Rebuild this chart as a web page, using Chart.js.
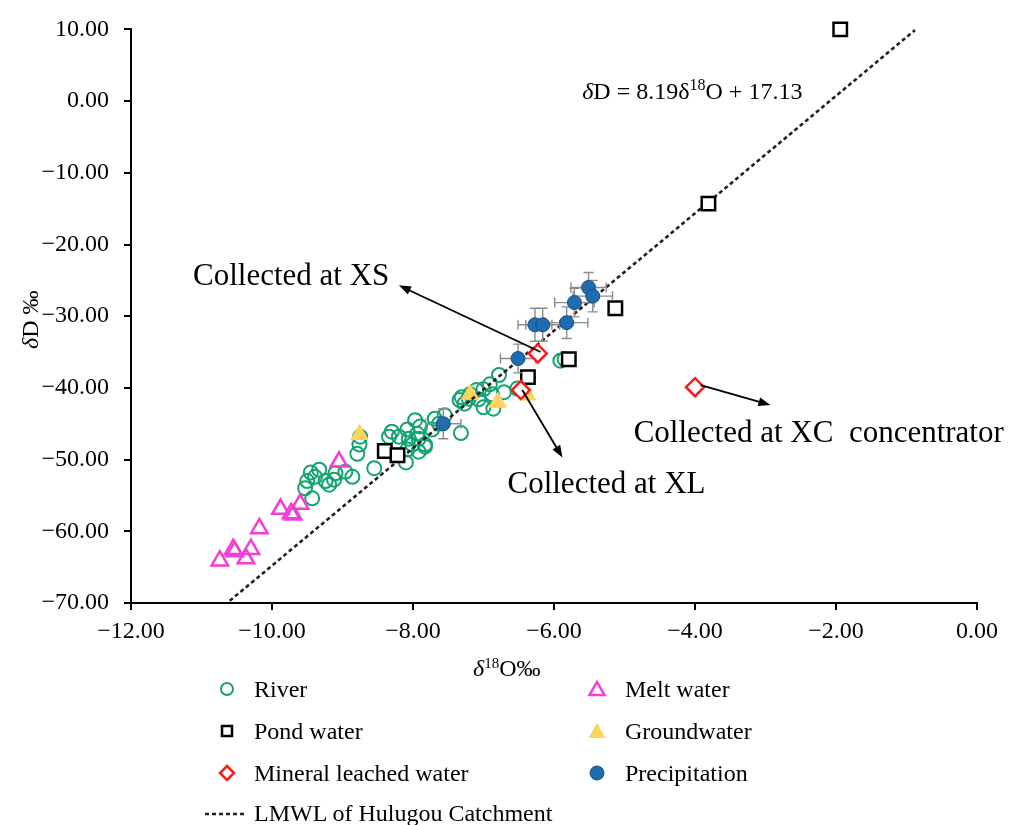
<!DOCTYPE html>
<html>
<head>
<meta charset="utf-8">
<script src="https://cdn.jsdelivr.net/npm/chart.js@4.4.1/dist/chart.umd.min.js"></script>
<style>
  body { margin: 0; background: #fff; }
  #wrap { position: relative; width: 1014px; height: 825px; font-family: "Liberation Serif", "Times New Roman", serif; color: #000; }
  #chart { position: absolute; left: 0; top: 0; }
  .txt { position: absolute; white-space: nowrap; font-size: 24px; line-height: 26px; }
  .txt i { font-style: italic; }
  .txt sup { font-size: 15px; vertical-align: 8px; line-height: 0; }
  .leg { position: absolute; height: 26px; display: flex; align-items: center; font-size: 24px; white-space: nowrap; }
  .leg svg { position: absolute; }
</style>
</head>
<body>
<div id="wrap">
  <canvas id="chart" width="1014" height="825"></canvas>

  <div class="txt" style="left:473px;top:655px;"><i>δ</i><sup>18</sup>O‰</div>
  <div class="txt" style="left:-4px;top:302px;transform:rotate(-90deg);transform-origin:34px 13px;"><i>δ</i>D ‰</div>

  <div id="legend"></div>
</div>

<script>
// River samples
const riverX = [-9.43, -9.53, -9.50, -9.39, -9.33, -9.24, -9.19, -9.12, -9.10, -8.96, -8.86, -8.79, -8.76, -8.75, -8.55,
  -8.34, -8.30, -8.20, -8.08, -8.06, -8.01, -8.08, -7.97, -7.90, -7.92, -7.92, -7.83, -7.73, -8.10, -9.45,
  -7.69, -7.63, -7.55, -7.32, -7.34, -7.31, -7.27, -7.19, -7.10, -7.07, -7.00, -7.00, -6.91, -6.88, -6.86,
  -6.78, -6.71, -6.52, -5.91, -5.85, -7.83, -7.94, -7.21];
const riverY = [-55.4, -54.0, -53.0, -52.4, -51.4, -53.0, -53.5, -52.8, -51.9, -51.7, -52.4, -49.2, -47.9, -46.8, -51.2,
  -46.8, -46.1, -46.8, -45.8, -47.1, -47.9, -48.6, -44.5, -45.4, -47.1, -48.9, -47.9, -45.8, -50.4, -51.8,
  -44.3, -45.0, -43.8, -46.3, -41.7, -41.3, -42.2, -40.9, -40.3, -41.6, -40.2, -42.7, -39.5, -40.9, -42.9,
  -38.2, -40.6, -40.1, -36.2, -36.0, -48.2, -46.4, -41.5];

// Melt water
const meltX = [-10.74, -10.55, -10.53, -10.37, -10.30, -10.18, -9.88, -9.73, -9.70, -9.60, -9.05];
const meltY = [-64.1, -62.5, -62.8, -63.8, -62.5, -59.6, -56.9, -57.5, -57.7, -56.2, -50.3];

// Pond water
const pondX = [-1.94, -3.81, -5.13, -5.79, -6.37, -8.40, -8.22];
const pondY = [10.0, -14.3, -28.9, -36.0, -38.5, -48.8, -49.4];

// Groundwater
const groundX = [-8.76, -7.19, -6.80, -6.38];
const groundY = [-46.5, -40.9, -42.0, -41.0];

// Mineral leached water
const mineralX = [-6.23, -6.47, -4.00];
const mineralY = [-35.2, -40.3, -39.9];

// Precipitation with error bars
const precipX = [-5.51, -5.45, -5.71, -6.27, -6.16, -5.82, -6.51, -7.57];
const precipY = [-26.0, -27.2, -28.1, -31.2, -31.2, -30.9, -35.9, -45.0];
const precipXErr = [0.25, 0.28, 0.28, 0.24, 0.24, 0.30, 0.25, 0.25];
const precipYErr = [2.1, 2.2, 2.0, 2.3, 2.3, 2.2, 2.0, 2.1];

// LMWL end points (dD = 8.19 d18O + 17.13)
const lmwlX = [-10.6, -0.88];
const lmwlY = [-69.7, 9.9];

const xTicks = [-12, -10, -8, -6, -4, -2, 0];
const yTicks = [10, 0, -10, -20, -30, -40, -50, -60, -70];

const FONT = '"Liberation Serif", "Times New Roman", serif';
const fmt = v => (v < 0 ? '\u2212' : '') + Math.abs(v).toFixed(2);
const pts = (xs, ys) => xs.map((x, i) => ({ x, y: ys[i] }));

const colors = {
  river: '#12a472',
  melt: '#f53dd6',
  pond: '#000000',
  ground: '#ffd35e',
  mineral: '#ff1a1a',
  precip: '#1f6cb0',
  precipEdge: '#154f86',
  lmwl: '#2b1c14'
};

// Annotation text/arrows (data coordinates)
const notes = [
  { text: 'Collected at XS', x: -11.12, y: -25.6, from: [-6.19, -35.0], to: [-8.20, -25.7] },
  { text: 'Collected at XL', x: -6.66, y: -54.7, from: [-6.45, -40.3], to: [-5.88, -49.7] },
  { text: 'Collected at XC  concentrator', x: -4.87, y: -47.5, from: [-3.92, -39.6], to: [-2.93, -42.4] }
];

function drawArrow(ctx, x0, y0, x1, y1) {
  const a = Math.atan2(y1 - y0, x1 - x0);
  const len = 12, half = 4.5;
  ctx.beginPath();
  ctx.moveTo(x0, y0);
  ctx.lineTo(x1 - len * 0.8 * Math.cos(a), y1 - len * 0.8 * Math.sin(a));
  ctx.stroke();
  ctx.beginPath();
  ctx.moveTo(x1, y1);
  ctx.lineTo(x1 - len * Math.cos(a) + half * Math.sin(a), y1 - len * Math.sin(a) - half * Math.cos(a));
  ctx.lineTo(x1 - len * Math.cos(a) - half * Math.sin(a), y1 - len * Math.sin(a) + half * Math.cos(a));
  ctx.closePath();
  ctx.fill();
}

const extras = {
  id: 'extras',
  beforeDatasetDraw(chart, args) {
    if (chart.data.datasets[args.index].label !== 'Precipitation') return;
    const { ctx, scales: { x, y } } = chart;
    ctx.save();
    ctx.strokeStyle = '#8c8c8c';
    ctx.lineWidth = 1.4;
    precipX.forEach((v, i) => {
      const px = x.getPixelForValue(v), py = y.getPixelForValue(precipY[i]);
      const xl = x.getPixelForValue(v - precipXErr[i]), xr = x.getPixelForValue(v + precipXErr[i]);
      const yt = y.getPixelForValue(precipY[i] + precipYErr[i]), yb = y.getPixelForValue(precipY[i] - precipYErr[i]);
      ctx.beginPath();
      ctx.moveTo(xl, py); ctx.lineTo(xr, py);
      ctx.moveTo(xl, py - 5); ctx.lineTo(xl, py + 5);
      ctx.moveTo(xr, py - 5); ctx.lineTo(xr, py + 5);
      ctx.moveTo(px, yt); ctx.lineTo(px, yb);
      ctx.moveTo(px - 5, yt); ctx.lineTo(px + 5, yt);
      ctx.moveTo(px - 5, yb); ctx.lineTo(px + 5, yb);
      ctx.stroke();
    });
    ctx.restore();
  },
  afterDatasetsDraw(chart) {
    const { ctx, scales: { x, y } } = chart;
    ctx.save();
    ctx.strokeStyle = '#000';
    ctx.fillStyle = '#000';
    ctx.lineWidth = 1.8;
    notes.forEach(n => {
      drawArrow(ctx, x.getPixelForValue(n.from[0]), y.getPixelForValue(n.from[1]),
        x.getPixelForValue(n.to[0]), y.getPixelForValue(n.to[1]));
      ctx.font = '31px ' + FONT;
      ctx.textBaseline = 'alphabetic';
      ctx.fillText(n.text, x.getPixelForValue(n.x), y.getPixelForValue(n.y));
    });

    // regression equation
    const runs = [
      { t: 'δ', f: 'italic 24px ' },
      { t: 'D = 8.19δ', f: '24px ' },
      { t: '18', f: '16px ', dy: -9 },
      { t: 'O + 17.13', f: '24px ' }
    ];
    let cx = x.getPixelForValue(-5.60);
    const cy = y.getPixelForValue(0.3);
    runs.forEach(r => {
      ctx.font = r.f + FONT;
      ctx.fillText(r.t, cx, cy + (r.dy || 0));
      cx += ctx.measureText(r.t).width;
    });
    ctx.restore();
  }
};

new Chart(document.getElementById('chart'), {
  type: 'scatter',
  data: {
    datasets: [
      { label: 'River', data: pts(riverX, riverY), pointStyle: 'circle', pointRadius: 7,
        borderColor: colors.river, backgroundColor: 'rgba(0,0,0,0)', borderWidth: 2, order: 8, clip: false },
      { label: 'Melt water', data: pts(meltX, meltY), pointStyle: 'triangle', pointRadius: 9.5,
        borderColor: colors.melt, backgroundColor: 'rgba(0,0,0,0)', borderWidth: 2.5, order: 7, clip: false },
      { label: 'Groundwater', data: pts(groundX, groundY), pointStyle: 'triangle', pointRadius: 10,
        borderColor: colors.ground, backgroundColor: colors.ground, borderWidth: 1, order: 6, clip: false },
      { label: 'LMWL of Hulugou Catchment', type: 'line', data: pts(lmwlX, lmwlY), showLine: true,
        borderColor: colors.lmwl, borderWidth: 2.6, borderDash: [4, 3], pointRadius: 0, fill: false, order: 5, clip: false },
      { label: 'Pond water', data: pts(pondX, pondY), pointStyle: 'rect', pointRadius: 9.5,
        borderColor: colors.pond, backgroundColor: '#fff', borderWidth: 2.5, order: 3, clip: false },
      { label: 'Precipitation', data: pts(precipX, precipY), pointStyle: 'circle', pointRadius: 7,
        borderColor: colors.precipEdge, backgroundColor: colors.precip, borderWidth: 1, order: 2, clip: false },
      { label: 'Mineral leached water', data: pts(mineralX, mineralY), pointStyle: 'rectRot', pointRadius: 9,
        borderColor: colors.mineral, backgroundColor: '#fff', borderWidth: 2.5, order: 1, clip: false }
    ]
  },
  options: {
    responsive: false,
    animation: false,
    layout: { padding: { left: 0, top: 25, right: 37, bottom: 0 } },
    plugins: { legend: { display: false }, tooltip: { enabled: false } },
    scales: {
      x: {
        type: 'linear', min: -12, max: 0,
        afterBuildTicks: s => { s.ticks = xTicks.map(v => ({ value: v })); },
        afterFit: s => { s.height = 222; },
        ticks: { callback: v => fmt(v), font: { family: FONT, size: 24 }, color: '#000', padding: 7, maxRotation: 0 },
        grid: { drawOnChartArea: false, drawTicks: true, tickLength: 7, color: '#000', lineWidth: 2 },
        border: { display: true, color: '#000', width: 2 }
      },
      y: {
        type: 'linear', min: -70, max: 10,
        afterBuildTicks: s => { s.ticks = yTicks.map(v => ({ value: v })); },
        afterFit: s => { s.width = 131; },
        ticks: { callback: v => fmt(v), font: { family: FONT, size: 24 }, color: '#000', padding: 15 },
        grid: { drawOnChartArea: false, drawTicks: true, tickLength: 7, color: '#000', lineWidth: 2 },
        border: { display: true, color: '#000', width: 2 }
      }
    }
  },
  plugins: [extras]
});

// HTML legend
const legendItems = [
  { label: 'River', col: 0, row: 0, svg: `<circle cx="10" cy="10" r="6" fill="none" stroke="${colors.river}" stroke-width="2"/>` },
  { label: 'Pond water', col: 0, row: 1, svg: `<rect x="5" y="5" width="10" height="10" fill="none" stroke="#000" stroke-width="2.5"/>` },
  { label: 'Mineral leached water', col: 0, row: 2, svg: `<polygon points="10,3 17,10 10,17 3,10" fill="none" stroke="${colors.mineral}" stroke-width="2.5"/>` },
  { label: 'Melt water', col: 1, row: 0, svg: `<polygon points="10,3 17.5,16 2.5,16" fill="none" stroke="${colors.melt}" stroke-width="2.5"/>` },
  { label: 'Groundwater', col: 1, row: 1, svg: `<polygon points="10,2 18.5,17 1.5,17" fill="${colors.ground}"/>` },
  { label: 'Precipitation', col: 1, row: 2, svg: `<circle cx="10" cy="10" r="7" fill="${colors.precip}" stroke="${colors.precipEdge}" stroke-width="1"/>` }
];
const markerX = [227, 597];
const textX = [254, 625];
const rowY = [689, 731, 773, 813];
const legend = document.getElementById('legend');
legendItems.forEach(it => {
  const d = document.createElement('div');
  d.className = 'leg';
  d.style.left = textX[it.col] + 'px';
  d.style.top = (rowY[it.row] - 13) + 'px';
  d.innerHTML = `<svg width="20" height="20" style="left:${markerX[it.col] - textX[it.col] - 10}px;top:3px">${it.svg}</svg>${it.label}`;
  legend.appendChild(d);
});
const lm = document.createElement('div');
lm.className = 'leg';
lm.style.left = '254px';
lm.style.top = (rowY[3] - 13) + 'px';
lm.innerHTML = `<svg width="42" height="6" style="left:-49px;top:11px"><line x1="0" y1="3" x2="42" y2="3" stroke="${colors.lmwl}" stroke-width="2.5" stroke-dasharray="4,3"/></svg>LMWL of Hulugou Catchment`;
legend.appendChild(lm);
</script>
</body>
</html>
